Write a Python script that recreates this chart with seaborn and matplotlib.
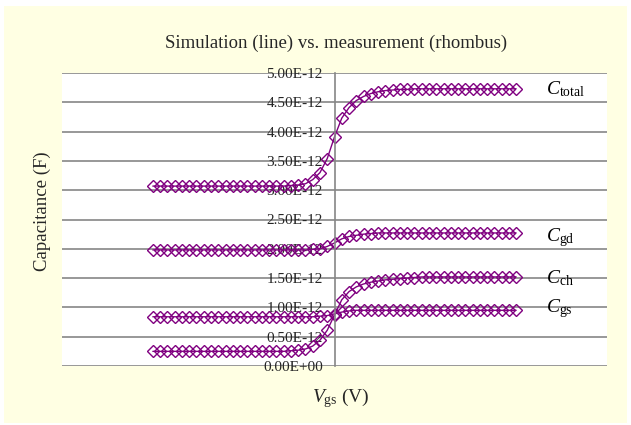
import matplotlib
matplotlib.use("Agg")
import matplotlib.pyplot as plt
import seaborn as sns
import pandas as pd
from matplotlib.patches import Rectangle

# ---------------- data ----------------
vgs = [-1.00, -0.96, -0.92, -0.88, -0.84, -0.80, -0.76, -0.72, -0.68, -0.64,
       -0.60, -0.56, -0.52, -0.48, -0.44, -0.40, -0.36, -0.32, -0.28, -0.24,
       -0.20, -0.16, -0.12, -0.08, -0.04, 0.00, 0.04, 0.08, 0.12, 0.16,
       0.20, 0.24, 0.28, 0.32, 0.36, 0.40, 0.44, 0.48, 0.52, 0.56,
       0.60, 0.64, 0.68, 0.72, 0.76, 0.80, 0.84, 0.88, 0.92, 0.96, 1.00]

# capacitances in units of 1e-12 F
c_total = [3.07, 3.07, 3.07, 3.07, 3.07, 3.07, 3.07, 3.07, 3.07, 3.07,
           3.07, 3.07, 3.07, 3.07, 3.07, 3.07, 3.07, 3.07, 3.07, 3.08,
           3.09, 3.11, 3.18, 3.30, 3.54, 3.91, 4.23, 4.41, 4.53, 4.60,
           4.65, 4.68, 4.70, 4.71, 4.72, 4.72, 4.73, 4.73, 4.73, 4.73,
           4.73, 4.73, 4.73, 4.73, 4.73, 4.73, 4.73, 4.73, 4.73, 4.73, 4.73]
c_gd = [1.98, 1.98, 1.98, 1.98, 1.98, 1.98, 1.98, 1.98, 1.98, 1.98,
        1.98, 1.98, 1.98, 1.98, 1.98, 1.98, 1.98, 1.98, 1.98, 1.98,
        1.98, 1.98, 1.99, 2.00, 2.04, 2.10, 2.17, 2.21, 2.23, 2.25,
        2.26, 2.27, 2.27, 2.27, 2.27, 2.27, 2.27, 2.27, 2.27, 2.27,
        2.27, 2.27, 2.27, 2.27, 2.27, 2.27, 2.27, 2.27, 2.27, 2.27, 2.27]
c_ch = [0.25, 0.25, 0.25, 0.25, 0.25, 0.25, 0.25, 0.25, 0.25, 0.25,
        0.25, 0.25, 0.25, 0.25, 0.25, 0.25, 0.25, 0.25, 0.25, 0.26,
        0.27, 0.29, 0.34, 0.44, 0.61, 0.87, 1.13, 1.27, 1.35, 1.40,
        1.43, 1.45, 1.47, 1.48, 1.49, 1.50, 1.51, 1.52, 1.52, 1.52,
        1.52, 1.52, 1.52, 1.52, 1.52, 1.52, 1.52, 1.52, 1.52, 1.52, 1.52]
c_gs = [0.84, 0.84, 0.84, 0.84, 0.84, 0.84, 0.84, 0.84, 0.84, 0.84,
        0.84, 0.84, 0.84, 0.84, 0.84, 0.84, 0.84, 0.84, 0.84, 0.84,
        0.84, 0.84, 0.84, 0.85, 0.86, 0.89, 0.92, 0.94, 0.95, 0.95,
        0.95, 0.95, 0.95, 0.95, 0.95, 0.95, 0.95, 0.95, 0.95, 0.95,
        0.95, 0.95, 0.95, 0.95, 0.95, 0.95, 0.95, 0.95, 0.95, 0.95, 0.95]

series_names = ["total", "gd", "ch", "gs"]
series_values = [c_total, c_gd, c_ch, c_gs]

ytick_values = [0.0, 0.5, 1.0, 1.5, 2.0, 2.5, 3.0, 3.5, 4.0, 4.5, 5.0]
ytick_labels = ["0.00E+00", "0.50E-12", "1.00E-12", "1.50E-12", "2.00E-12",
                "2.50E-12", "3.00E-12", "3.50E-12", "4.00E-12", "4.50E-12",
                "5.00E-12"]

title = "Simulation (line) vs. measurement (rhombus)"

# ---------------- styling ----------------
sns.set_theme(style="white")
plt.rcParams["font.family"] = ["Liberation Serif", "DejaVu Serif"]
plt.rcParams["mathtext.fontset"] = "custom"
plt.rcParams["mathtext.rm"] = "Liberation Serif"
plt.rcParams["mathtext.it"] = "Liberation Serif:italic"

purple = "#800080"
grid_col = "#868686"

rows = []
for name, vals in zip(series_names, series_values):
    for x, v in zip(vgs, vals):
        rows.append({"Vgs": x, "C": v * 1e-12, "series": name})
df = pd.DataFrame(rows)

fig = plt.figure(figsize=(6.31, 4.25), dpi=100)
fig.patch.set_facecolor("white")
fig.patches.append(Rectangle((4 / 631, 2 / 425), 623 / 631, 417 / 425,
                             transform=fig.transFigure, facecolor="#FFFFE3",
                             edgecolor="none", zorder=-10))

ax = fig.add_axes([62 / 631, 1 - 366 / 425, 545 / 631, 293 / 425])
ax.set_facecolor("white")

sns.lineplot(data=df, x="Vgs", y="C", units="series", estimator=None,
             color=purple, lw=1.0, marker="D", markersize=5.8,
             markerfacecolor="none", markeredgecolor=purple, markeredgewidth=1.0,
             ax=ax, legend=False, sort=False)

ax.set_xlim(-1.5, 1.5)
ax.set_ylim(0, 5e-12)
ax.set_yticks([v * 1e-12 for v in ytick_values])
ax.set_yticklabels(ytick_labels, fontsize=12.5, color="black")
ax.set_xticks([])
ax.set_xlabel("")
ax.set_ylabel("")

ax.yaxis.grid(True, color=grid_col, lw=1.2)
for gl in ax.get_ygridlines():
    gl.set_clip_on(False)
    gl.set_zorder(0.5)
ax.set_axisbelow(True)

for side in ["top", "right", "bottom"]:
    ax.spines[side].set_visible(False)
ax.spines["left"].set_position(("data", 0))
ax.spines["left"].set_color(grid_col)
ax.spines["left"].set_linewidth(1.2)
ax.tick_params(axis="y", length=0, pad=8.5)

# curve labels (small vertical nudges in points)
label_dy = [0, -3, -1, 1]
for name, vals, dy in zip(series_names, series_values, label_dy):
    ax.annotate(r"$\mathit{C}_{\mathrm{%s}}$" % name,
                xy=(1.165, vals[-1] * 1e-12), xytext=(0, dy),
                textcoords="offset points",
                fontsize=14, ha="left", va="center", color="black")

fig.text(336 / 631, 1 - 43 / 425, title, ha="center", va="center", fontsize=13.5)
fig.text(42 / 631, 1 - 211 / 425, "Capacitance (F)", rotation=90,
         ha="center", va="center", fontsize=13.5)
fig.text(341 / 631, 1 - 398 / 425, r"$\mathit{V}_{\mathrm{gs}}$ (V)",
         ha="center", va="center", fontsize=14)

fig.savefig("out.png", dpi=100, facecolor=fig.get_facecolor())
